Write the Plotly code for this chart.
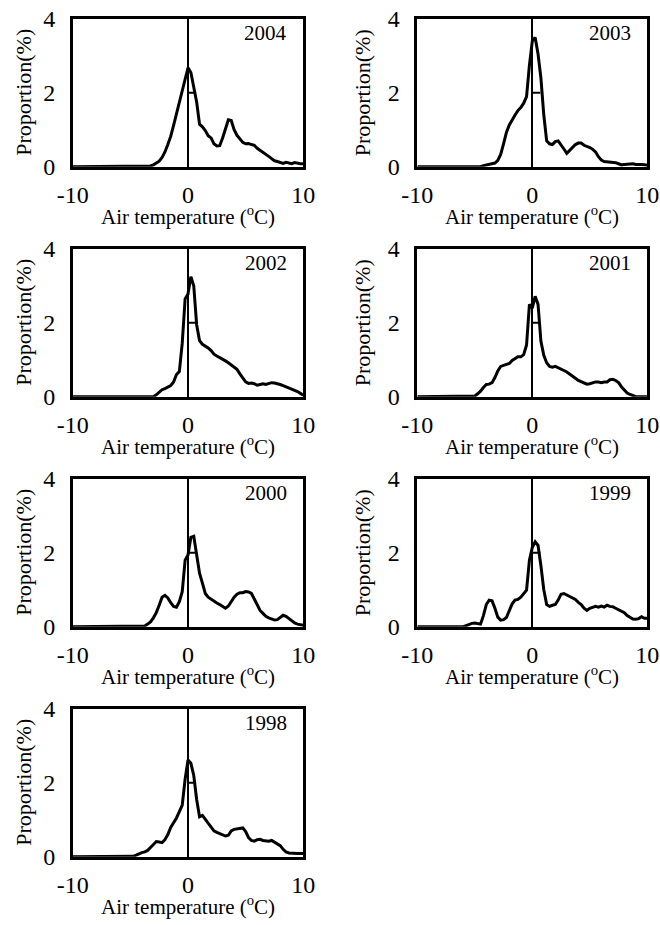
import numpy as np
import plotly.graph_objects as go

# Air temperature bins (degC), 0.25 degC resolution
temps = np.round(np.arange(-10, 10.001, 0.25), 2)

Z16 = [0.0] * 16  # -10.0 .. -6.25
Z8 = [0.0] * 8    # -6.0 .. -4.25

p2004 = Z16 + Z8 + [
    0.0, 0.0, 0.0, 0.02, 0.05, 0.09, 0.15, 0.25, 0.40, 0.60, 0.82, 1.12, 1.42, 1.72, 2.10, 2.40,
    2.68, 2.55, 2.15, 1.75, 1.15, 1.08, 0.98, 0.84, 0.78, 0.62, 0.56, 0.57, 0.78, 1.05, 1.27, 1.25,
    1.00, 0.85, 0.75, 0.66, 0.62, 0.63, 0.60, 0.58, 0.50, 0.45, 0.38, 0.33, 0.28, 0.22, 0.16, 0.14,
    0.12, 0.09, 0.12, 0.10, 0.08, 0.11, 0.09, 0.08, 0.08]

p2003 = Z16 + [0.0, 0.0, 0.0, 0.0, 0.0, 0.0, 0.0, 0.03] + [
    0.05, 0.06, 0.08, 0.10, 0.17, 0.33, 0.62, 0.93, 1.13, 1.28, 1.40, 1.52, 1.60, 1.72, 1.90, 2.75,
    3.40, 3.50, 3.05, 2.40, 1.40, 0.70, 0.62, 0.60, 0.68, 0.70, 0.60, 0.48, 0.36, 0.44, 0.53, 0.60,
    0.64, 0.64, 0.58, 0.56, 0.52, 0.47, 0.40, 0.27, 0.18, 0.14, 0.13, 0.14, 0.13, 0.11, 0.08, 0.05,
    0.06, 0.07, 0.09, 0.08, 0.06, 0.07, 0.06, 0.05, 0.04]

p2002 = Z16 + Z8 + [
    0.0, 0.0, 0.0, 0.0, 0.0, 0.05, 0.12, 0.19, 0.22, 0.25, 0.30, 0.40, 0.60, 0.68, 1.45, 2.65,
    2.78, 3.25, 3.00, 1.95, 1.52, 1.42, 1.38, 1.32, 1.25, 1.15, 1.10, 1.06, 1.03, 0.97, 0.92, 0.86,
    0.80, 0.74, 0.62, 0.50, 0.40, 0.36, 0.37, 0.35, 0.31, 0.33, 0.35, 0.33, 0.36, 0.38, 0.37, 0.36,
    0.33, 0.30, 0.27, 0.24, 0.21, 0.18, 0.14, 0.09, 0.04]

p2001 = Z16 + [0.0, 0.0, 0.0, 0.0, 0.02, 0.08, 0.15, 0.25] + [
    0.33, 0.34, 0.38, 0.52, 0.70, 0.82, 0.85, 0.86, 0.90, 0.98, 1.03, 1.08, 1.08, 1.14, 1.40, 2.50,
    2.40, 2.72, 2.50, 1.50, 1.12, 0.92, 0.82, 0.80, 0.82, 0.79, 0.75, 0.71, 0.67, 0.62, 0.55, 0.50,
    0.44, 0.40, 0.36, 0.34, 0.35, 0.38, 0.40, 0.40, 0.38, 0.40, 0.40, 0.46, 0.47, 0.44, 0.38, 0.27,
    0.17, 0.10, 0.06, 0.03, 0.0, 0.0, 0.0, 0.0, 0.0]

p2000 = Z16 + Z8 + [
    0.0, 0.02, 0.07, 0.13, 0.24, 0.38, 0.58, 0.80, 0.85, 0.78, 0.65, 0.55, 0.53, 0.68, 0.95, 1.80,
    1.94, 2.42, 2.45, 1.90, 1.45, 1.18, 0.90, 0.80, 0.74, 0.68, 0.64, 0.60, 0.55, 0.50, 0.56, 0.68,
    0.80, 0.88, 0.92, 0.92, 0.95, 0.94, 0.90, 0.75, 0.58, 0.44, 0.36, 0.28, 0.24, 0.20, 0.18, 0.19,
    0.26, 0.31, 0.28, 0.22, 0.15, 0.10, 0.07, 0.05, 0.04]

p1999 = Z16 + [0.0, 0.03, 0.07, 0.09, 0.10, 0.09, 0.07, 0.30] + [
    0.60, 0.72, 0.70, 0.50, 0.26, 0.18, 0.19, 0.25, 0.42, 0.62, 0.72, 0.74, 0.80, 0.90, 0.99, 1.80,
    2.15, 2.30, 2.20, 1.65, 1.00, 0.60, 0.55, 0.58, 0.60, 0.72, 0.88, 0.90, 0.86, 0.82, 0.78, 0.74,
    0.66, 0.60, 0.50, 0.44, 0.50, 0.52, 0.55, 0.53, 0.56, 0.53, 0.58, 0.55, 0.54, 0.50, 0.46, 0.44,
    0.38, 0.30, 0.25, 0.21, 0.20, 0.22, 0.27, 0.23, 0.23]

p1998 = Z16 + [0.0, 0.0, 0.0, 0.0, 0.0, 0.01, 0.04, 0.08] + [
    0.11, 0.13, 0.17, 0.25, 0.34, 0.41, 0.40, 0.38, 0.46, 0.60, 0.79, 0.92, 1.05, 1.22, 1.40, 2.10,
    2.62, 2.53, 2.20, 1.55, 1.08, 1.12, 1.02, 0.93, 0.80, 0.70, 0.66, 0.63, 0.60, 0.56, 0.58, 0.70,
    0.74, 0.76, 0.77, 0.78, 0.68, 0.52, 0.44, 0.42, 0.46, 0.47, 0.44, 0.43, 0.42, 0.44, 0.40, 0.36,
    0.30, 0.20, 0.13, 0.10, 0.09, 0.09, 0.09, 0.09, 0.09]

years = ["2004", "2003", "2002", "2001", "2000", "1999", "1998"]
series = [p2004, p2003, p2002, p2001, p2000, p1999, p1998]
x_ticks = [-10, 0, 10]
y_ticks = [0, 2, 4]

W, H = 660, 925
FONT = "Liberation Serif, Times New Roman, serif"

# panel boxes in pixels: (left, right) per column, (top, bottom) per row
cols = [(72.7, 303.3), (417.3, 647.3)]
rows = [(19, 166.7), (249, 396.7), (479, 626.7), (709, 856.7)]
ytitle_x = [24, 362.5]

fig = go.Figure()
for i, (yr, vals) in enumerate(zip(years, series)):
    r, c = divmod(i, 2)
    (xl, xr), (yt, yb) = cols[c], rows[r]
    n = "" if i == 0 else str(i + 1)
    xa, ya = "x" + n, "y" + n
    fig.add_trace(go.Scatter(
        x=temps, y=vals, mode="lines", xaxis=xa, yaxis=ya,
        line=dict(color="black", width=3), showlegend=False, hoverinfo="skip"))
    fig.layout["xaxis" + n] = dict(
        domain=[xl / W, xr / W], anchor=ya, range=[-10, 10], automargin=False,
        tickvals=x_ticks, ticktext=[str(v) for v in x_ticks], ticks="",
        ticklabelstandoff=5,
        showgrid=False, zeroline=True, zerolinecolor="black", zerolinewidth=2,
        showline=True, mirror=True, linecolor="black", linewidth=2.5,
        tickfont=dict(family=FONT, size=24, color="black"))
    fig.layout["yaxis" + n] = dict(
        domain=[1 - yb / H, 1 - yt / H], anchor=xa, range=[0, 4], automargin=False,
        tickvals=y_ticks, ticktext=[str(v) for v in y_ticks], ticks="",
        ticklabelstandoff=10,
        showgrid=False, zeroline=False,
        showline=True, mirror=True, linecolor="black", linewidth=2.5,
        tickfont=dict(family=FONT, size=24, color="black"))
    # short tick on the zero line at y = 2
    fig.add_shape(type="line", xref=xa, yref=ya, x0=0, x1=0.7, y0=2, y1=2,
                  line=dict(color="black", width=2))
    # year label
    fig.add_annotation(xref=xa + " domain", yref=ya + " domain", x=1 - 14 / (xr - xl),
                       y=1 - 13.5 / (yb - yt), xanchor="right", yanchor="middle",
                       text=yr, showarrow=False,
                       font=dict(family=FONT, size=21, color="black"))
    # axis titles
    fig.add_annotation(xref="paper", yref="paper", x=(xl + xr) / 2 / W,
                       y=1 - (yb + 49) / H, xanchor="center", yanchor="middle",
                       text="Air temperature (<sup>o</sup>C)", showarrow=False,
                       font=dict(family=FONT, size=21, color="black"))
    fig.add_annotation(xref="paper", yref="paper", x=ytitle_x[c] / W,
                       y=1 - (yt + yb) / 2 / H, xanchor="center", yanchor="middle",
                       text="Proportion(%)", textangle=-90, showarrow=False,
                       font=dict(family=FONT, size=22, color="black"))

fig.update_layout(width=W, height=H, margin=dict(l=0, r=0, t=0, b=0, autoexpand=False),
                  paper_bgcolor="white", plot_bgcolor="white")
fig.write_html("out.html")
